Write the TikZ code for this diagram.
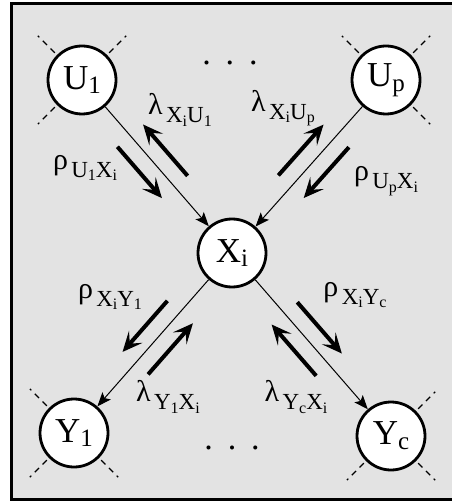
\documentclass[tikz,border=0pt]{standalone}
\usepackage{fontspec}
\setmainfont{Liberation Serif}
\usepackage{tikz}
\usetikzlibrary{arrows.meta}
\usetikzlibrary{calc}
\definecolor{panel}{RGB}{227,227,227}
\newcommand{\lo}[1]{\raisebox{-0.3ex}{\fontsize{12.5}{12}\selectfont #1}}
\newcommand{\li}[1]{\raisebox{-0.35ex}{\fontsize{8}{8}\selectfont #1}}
\newcommand{\msg}[2]{{\fontsize{15}{15}\selectfont #1}\,\raisebox{-4pt}{\fontsize{11.5}{11.5}\selectfont #2}}

\begin{document}
\begin{tikzpicture}[x=0.5pt,y=-0.5pt,
  var/.style={circle,draw,line width=1.4pt,fill=white,minimum size=34pt,inner sep=0pt,font=\fontsize{17.5}{17.5}\selectfont},
  link/.style={line width=0.5pt,-{Stealth[length=7pt,width=5.5pt,inset=1.5pt]}},
  pass/.style={line width=2pt,-{Stealth[length=10pt,width=9pt,inset=4.5pt]}},
  stub/.style={line width=0.6pt,dash pattern=on 3pt off 2.5pt,shorten <=1.5pt},
  lab/.style={inner sep=0pt}]
\useasboundingbox (0,0) rectangle (451,501);
\draw[line width=1.5pt,fill=panel] (11,3.5) rectangle (470,499);

\draw (82,80) node[var](U1) {U\lo{1}} ;
\draw (386,80) node[var](Up) {U\lo{p}} ;
\draw (232,253) node[var](Xi) {X\lo{i}} ;
\draw (74,433) node[var](Y1) {Y\lo{1}} ;
\draw (391,436) node[var](Yc) {Y\lo{c}} ;

\foreach \n/\a in {U1/135,U1/45,U1/225,Up/135,Up/45,Up/-45,
                   Y1/135,Y1/225,Y1/-45,Yc/45,Yc/225,Yc/-45}
  \draw[stub] (\n.\a) -- ++(\a:13.5pt);

\draw[link] (U1) -- (Xi);
\draw[link] (Up) -- (Xi);
\draw[link] (Xi) -- (Y1);
\draw[link] (Xi) -- (Yc);

\foreach \s/\t/\r/\l in {U1/Xi/90/-90,Up/Xi/-90/90,Xi/Y1/90/-90,Xi/Yc/-90/90} {
  \coordinate (m) at ($(\s)!0.47!(\t)$);
  \draw[pass] ($(m)!17pt!(\s)!8.5pt!\r:(\s)$) -- ($(m)!17pt!(\t)!8.5pt!\l:(\t)$);
  \draw[pass] ($(m)!17pt!(\t)!8.5pt!\r:(\t)$) -- ($(m)!17pt!(\s)!8.5pt!\l:(\s)$);
}

\draw (180,110) node[lab](lamU1) {\msg{λ}{X\li{i}U\li{1}}} ;
\draw (85,168) node[lab](rhoU1) {\msg{ρ}{U\li{1}X\li{i}}} ;
\draw (283,108) node[lab](lamUp) {\msg{λ}{X\li{i}U\li{p}}} ;
\draw (386,181) node[lab](rhoUp) {\msg{ρ}{U\li{p}X\li{i}}} ;
\draw (110,297) node[lab](rhoY1) {\msg{ρ}{X\li{i}Y\li{1}}} ;
\draw (168,397) node[lab](lamY1) {\msg{λ}{Y\li{1}X\li{i}}} ;
\draw (355,295) node[lab](rhoYc) {\msg{ρ}{X\li{i}Y\li{c}}} ;
\draw (296,397) node[lab](lamYc) {\msg{λ}{Y\li{c}X\li{i}}} ;

\draw (230,65) node[anchor=base,font=\fontsize{17}{17}\selectfont](dotsU) {.\hspace{7.5pt}.\hspace{7.5pt}.} ;
\draw (232,449) node[anchor=base,font=\fontsize{17}{17}\selectfont](dotsY) {.\hspace{7.5pt}.\hspace{7.5pt}.} ;
\end{tikzpicture}
\end{document}
